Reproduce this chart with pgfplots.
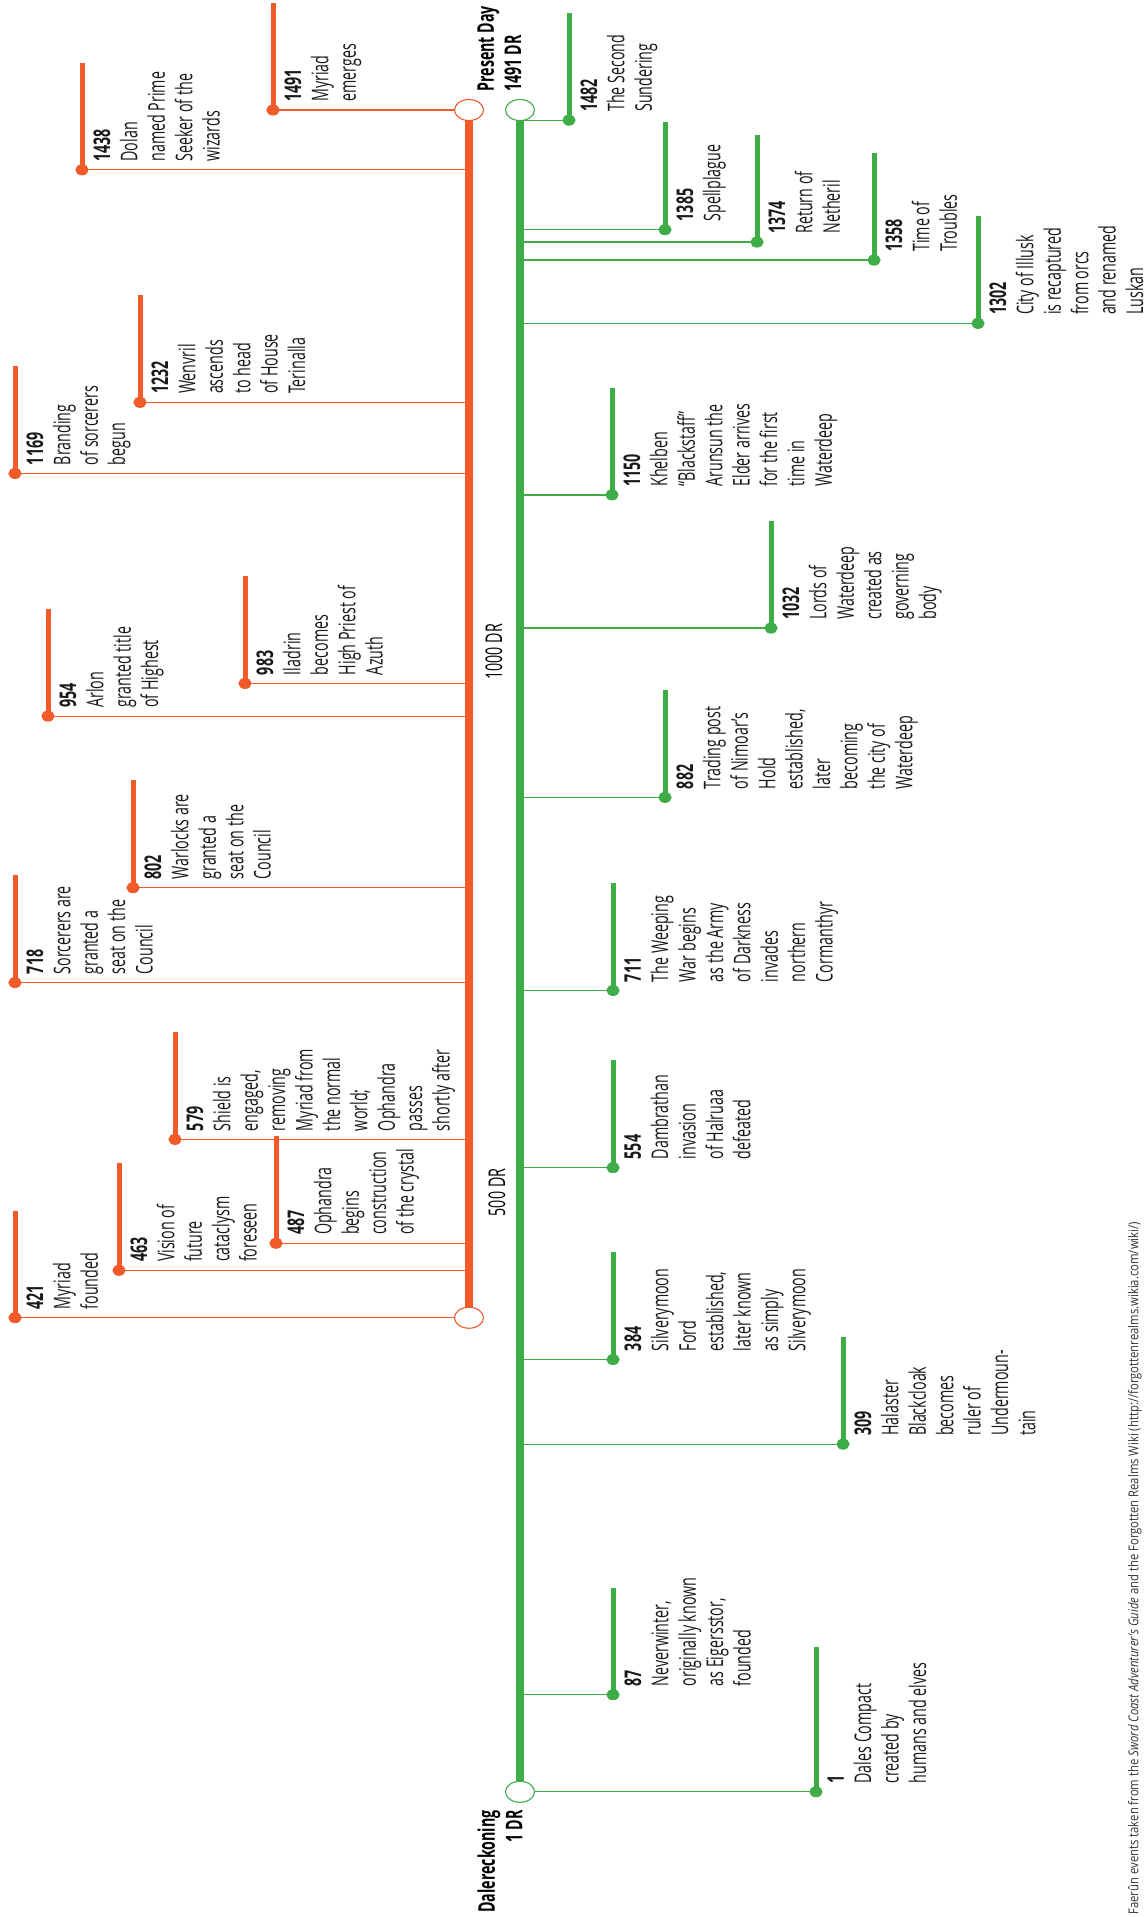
\documentclass[border=0pt]{standalone}
\usepackage{fontspec}
\setmainfont{Open Sans}[FakeStretch=0.62]
\newfontfamily\footfont{Open Sans}[FakeStretch=0.83]
\usepackage{pgfplots}
\pgfplotsset{compat=1.18}
\definecolor{ocol}{RGB}{241,90,41}
\definecolor{gcol}{RGB}{62,173,72}
\newcommand{\evfont}{\fontsize{11.5}{13.7}\selectfont}
\newcommand{\evtext}[3]{\node[xshift=5.5pt,yshift=4pt,rotate=90,anchor=north west,inner sep=0pt,align=left,font=\evfont,text=black!90] at (axis cs:#1,#2) {\textbf{#2}\\#3};}
% orange event: x, year, bar top, text
\newcommand{\oev}[4]{%
\addplot[ocol,line width=0.65pt] coordinates {(#1,#2) (469,#2)};
\addplot[ocol,line width=2.5pt] coordinates {(#1,#2) (#1,#3)};
\addplot[ocol,only marks,mark=*,mark size=3.1pt,mark options={yscale=0.82}] coordinates {(#1,#2)};
\evtext{#1}{#2}{#4}}
% green event: x, year, bar top, text
\newcommand{\gev}[4]{%
\addplot[gcol,line width=0.65pt] coordinates {(520,#2) (#1,#2)};
\addplot[gcol,line width=2.5pt] coordinates {(#1,#2) (#1,#3)};
\addplot[gcol,only marks,mark=*,mark size=3.1pt,mark options={yscale=0.82}] coordinates {(#1,#2)};
\evtext{#1}{#2}{#4}}
\begin{document}
\begin{tikzpicture}
\begin{axis}[scale only axis, width=572pt, height=958.5pt,
  xmin=0, xmax=1144, ymin=-109.9, ymax=1588.5,
  hide axis, clip=false]
% ---- orange events ----
\oev{273}{1491}{1586}{Myriad\\emerges}
\oev{82}{1438}{1533}{Dolan\\named Prime\\Seeker of the\\wizards}
\oev{140}{1232}{1327}{Wenvril\\ascends\\to head\\of House\\Terinalla}
\oev{15}{1169}{1264}{Branding\\of sorcerers\\begun}
\oev{245}{983}{1078}{Iladrin\\becomes\\High Priest of\\Azuth}
\oev{48}{954}{1049}{Arlon\\granted title\\of Highest}
\oev{133}{802}{897}{Warlocks are\\granted a\\seat on the\\Council}
\oev{15}{718}{813}{Sorcerers are\\granted a\\seat on the\\Council}
\oev{175}{579}{674}{Shield is\\engaged,\\removing\\Myriad from\\the normal\\world;\\Ophandra\\passes\\shortly after}
\oev{276}{487}{582}{Ophandra\\begins\\construction\\of the crystal}
\oev{119}{463}{558}{Vision of\\future\\cataclysm\\foreseen}
\oev{15}{421}{516}{Myriad\\founded}
% ---- green events ----
\gev{569}{1482}{1577}{The Second\\Sundering}
\gev{665}{1385}{1480}{Spellplague}
\gev{757}{1374}{1469}{Return of\\Netheril}
\gev{874}{1358}{1453}{Time of\\Troubles}
\gev{978}{1302}{1397}{City of Illusk\\is recaptured\\from orcs\\and renamed\\Luskan}
\gev{612}{1150}{1245}{Khelben\\“Blackstaff”\\Arunsun the\\Elder arrives\\for the first\\time in\\Waterdeep}
\gev{771}{1032}{1127}{Lords of\\Waterdeep\\created as\\governing\\body}
\gev{665}{882}{977}{Trading post\\of Nimoar’s\\Hold\\established,\\later\\becoming\\the city of\\Waterdeep}
\gev{613}{711}{806}{The Weeping\\War begins\\as the Army\\of Darkness\\invades\\northern\\Cormanthyr}
\gev{613}{554}{649}{Dambrathan\\invasion\\of Halruaa\\defeated}
\gev{613}{384}{479}{Silverymoon\\Ford\\established,\\later known\\as simply\\Silverymoon}
\gev{843}{309}{404}{Halaster\\Blackcloak\\becomes\\ruler of\\Undermoun-\\tain}
\gev{613}{87}{182}{Neverwinter,\\originally known\\as Eigersstor,\\founded}
\gev{816}{1}{129}{Dales Compact\\created by\\humans and elves}
% ---- spines ----
\addplot[ocol,line width=3.8pt] coordinates {(469,421) (469,1491)};
\addplot[gcol,line width=3.8pt] coordinates {(520,1) (520,1491)};
\addplot[only marks,mark=*,mark size=5.25pt,mark options={fill=white,draw=ocol,line width=0.55pt,xscale=1.38}] coordinates {(469,1491) (469,421)};
\addplot[only marks,mark=*,mark size=5.25pt,mark options={fill=white,draw=gcol,line width=0.55pt,xscale=1.38}] coordinates {(520,1491) (520,1)};
% ---- labels ----
\node[rotate=90,anchor=north west,inner sep=0pt,align=left,font=\bfseries\evfont] at (axis cs:477,1507) {Present Day\\1491 DR};
\node[rotate=90,anchor=north east,inner sep=0pt,align=right,font=\bfseries\evfont] at (axis cs:477,-15) {Dalereckoning\\1 DR};
\node[rotate=90,inner sep=0pt,font=\evfont] at (axis cs:494,1011) {1000 DR};
\node[rotate=90,inner sep=0pt,font=\evfont] at (axis cs:497,532) {500 DR};
\node[rotate=90,anchor=south west,inner sep=0pt,font=\footfont\fontsize{6.8}{8}\selectfont,text=black!80] at (axis cs:1142,-108) {Faerûn events taken from the \textit{Sword Coast Adventurer’s Guide} and the Forgotten Realms Wiki (http://forgottenrealms.wikia.com/wiki/)};
\end{axis}
\pgfresetboundingbox
\path (current axis.south west) rectangle (current axis.north east);
\end{tikzpicture}
\end{document}
